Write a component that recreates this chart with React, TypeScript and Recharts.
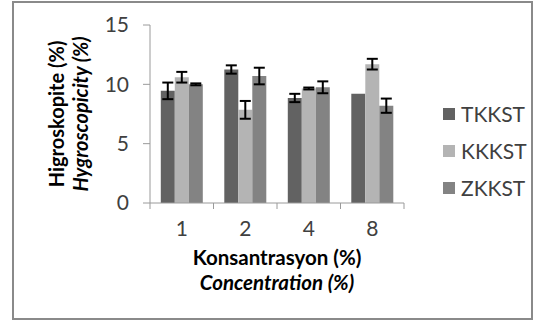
import React from 'react'
import {
  BarChart, Bar, XAxis, YAxis, Legend, ErrorBar, Label,
} from 'recharts'

const categories = ['1', '2', '4', '8']
const seriesNames = ['TKKST', 'KKKST', 'ZKKST']
const tkkst = [9.45, 11.25, 8.85, 9.2]
const tkkstErr = [0.7, 0.35, 0.35, 0]
const kkkst = [10.6, 7.85, 9.65, 11.7]
const kkkstErr = [0.45, 0.75, 0.08, 0.45]
const zkkst = [10.0, 10.7, 9.75, 8.2]
const zkkstErr = [0.08, 0.7, 0.5, 0.6]
const yTicks = [0, 5, 10, 15]

const data = categories.map((c, i) => ({
  conc: c,
  TKKST: tkkst[i], tkErr: tkkstErr[i],
  KKKST: kkkst[i], kkErr: kkkstErr[i],
  ZKKST: zkkst[i], zkErr: zkkstErr[i],
}))

const W = 534
const H = 322
const PLOT_LEFT = 150
const PLOT_RIGHT = 404
const PLOT_TOP = 25
const PLOT_BOTTOM = 203
const Y_AXIS_W = 40
const X_AXIS_H = 30
const BAND = (PLOT_RIGHT - PLOT_LEFT) / categories.length

const FONT = 'Lato, "Open Sans", sans-serif'
const AXIS = '#9a9a9a'
const TEXT = '#404040'

const COLORS: Record<string, string> = { TKKST: '#626262', KKKST: '#b4b4b4', ZKKST: '#838383' }

function XTick(props: any) {
  const { x, payload, index } = props
  const last = index === categories.length - 1
  return (
    <g>
      <line x1={x - BAND / 2} x2={x - BAND / 2} y1={PLOT_BOTTOM} y2={PLOT_BOTTOM + 6} stroke={AXIS} />
      {last && (
        <line x1={x + BAND / 2} x2={x + BAND / 2} y1={PLOT_BOTTOM} y2={PLOT_BOTTOM + 6} stroke={AXIS} />
      )}
      <text x={x} y={PLOT_BOTTOM + 33} textAnchor="middle" fill={TEXT} fontSize={21} fontFamily={FONT}>
        {payload.value}
      </text>
    </g>
  )
}

function YTitle() {
  const cy = (PLOT_TOP + PLOT_BOTTOM) / 2
  return (
    <g fontFamily={FONT} fontSize={20} fill="#000">
      <text x={64} y={cy} transform={`rotate(-90 64 ${cy})`} textAnchor="middle" fontWeight="bold">
        Higroskopite (%)
      </text>
      <text x={88} y={cy} transform={`rotate(-90 88 ${cy})`} textAnchor="middle" fontStyle="italic" fontWeight="bold">
        Hygroscopicity (%)
      </text>
    </g>
  )
}

function XTitle() {
  const cx = (PLOT_LEFT + PLOT_RIGHT) / 2
  return (
    <g fontFamily={FONT} fontSize={20.5} fill="#000">
      <text x={cx} y={265} textAnchor="middle" fontWeight="bold">Konsantrasyon (%)</text>
      <text x={cx} y={290} textAnchor="middle" fontStyle="italic" fontWeight="bold">Concentration (%)</text>
    </g>
  )
}

function LegendBox({ payload }: any) {
  const items = seriesNames
    .map(n => (payload || []).find((p: any) => p.value === n))
    .filter(Boolean)
  return (
    <div style={{ fontFamily: FONT, fontSize: 21, color: TEXT }}>
      {items.map((p: any) => (
        <div key={p.value} style={{ display: 'flex', alignItems: 'center', height: 37 }}>
          <span style={{ width: 12, height: 12, background: p.color, marginRight: 6, display: 'inline-block' }} />
          <span>{p.value}</span>
        </div>
      ))}
    </div>
  )
}

export default function App() {
  return (
    <div style={{ position: 'absolute', left: 0, top: 0, width: W, height: H, background: '#fff' }}>
      <div style={{
        position: 'absolute', left: 12, top: 1, width: 521, height: 319,
        boxSizing: 'border-box', border: '2px solid #8a8a8a',
      }} />
      <BarChart
        width={W}
        height={H}
        data={data}
        margin={{ top: PLOT_TOP, right: W - PLOT_RIGHT, bottom: H - PLOT_BOTTOM - X_AXIS_H, left: PLOT_LEFT - Y_AXIS_W }}
        barCategoryGap="17%"
        barGap={0}
        style={{ position: 'absolute', left: 0, top: 0 }}
      >
        <XAxis
          dataKey="conc"
          height={X_AXIS_H}
          stroke={AXIS}
          tickLine={false}
          tick={<XTick />}
          interval={0}
        >
          <Label content={<XTitle />} />
        </XAxis>
        <YAxis
          width={Y_AXIS_W}
          domain={[0, 15]}
          ticks={yTicks}
          stroke={AXIS}
          tickSize={7}
          tickMargin={14}
          tick={{ fill: TEXT, fontSize: 21, fontFamily: FONT }}
        >
          <Label content={<YTitle />} />
        </YAxis>
        <Legend
          layout="vertical"
          align="center"
          verticalAlign="middle"
          content={<LegendBox />}
          wrapperStyle={{ left: 443, top: 95, width: 90 }}
        />
        <Bar dataKey="TKKST" fill={COLORS.TKKST} isAnimationActive={false}>
          <ErrorBar dataKey="tkErr" width={5.5} strokeWidth={2} stroke="#000" />
        </Bar>
        <Bar dataKey="KKKST" fill={COLORS.KKKST} isAnimationActive={false}>
          <ErrorBar dataKey="kkErr" width={5.5} strokeWidth={2} stroke="#000" />
        </Bar>
        <Bar dataKey="ZKKST" fill={COLORS.ZKKST} isAnimationActive={false}>
          <ErrorBar dataKey="zkErr" width={5.5} strokeWidth={2} stroke="#000" />
        </Bar>
      </BarChart>
    </div>
  )
}
